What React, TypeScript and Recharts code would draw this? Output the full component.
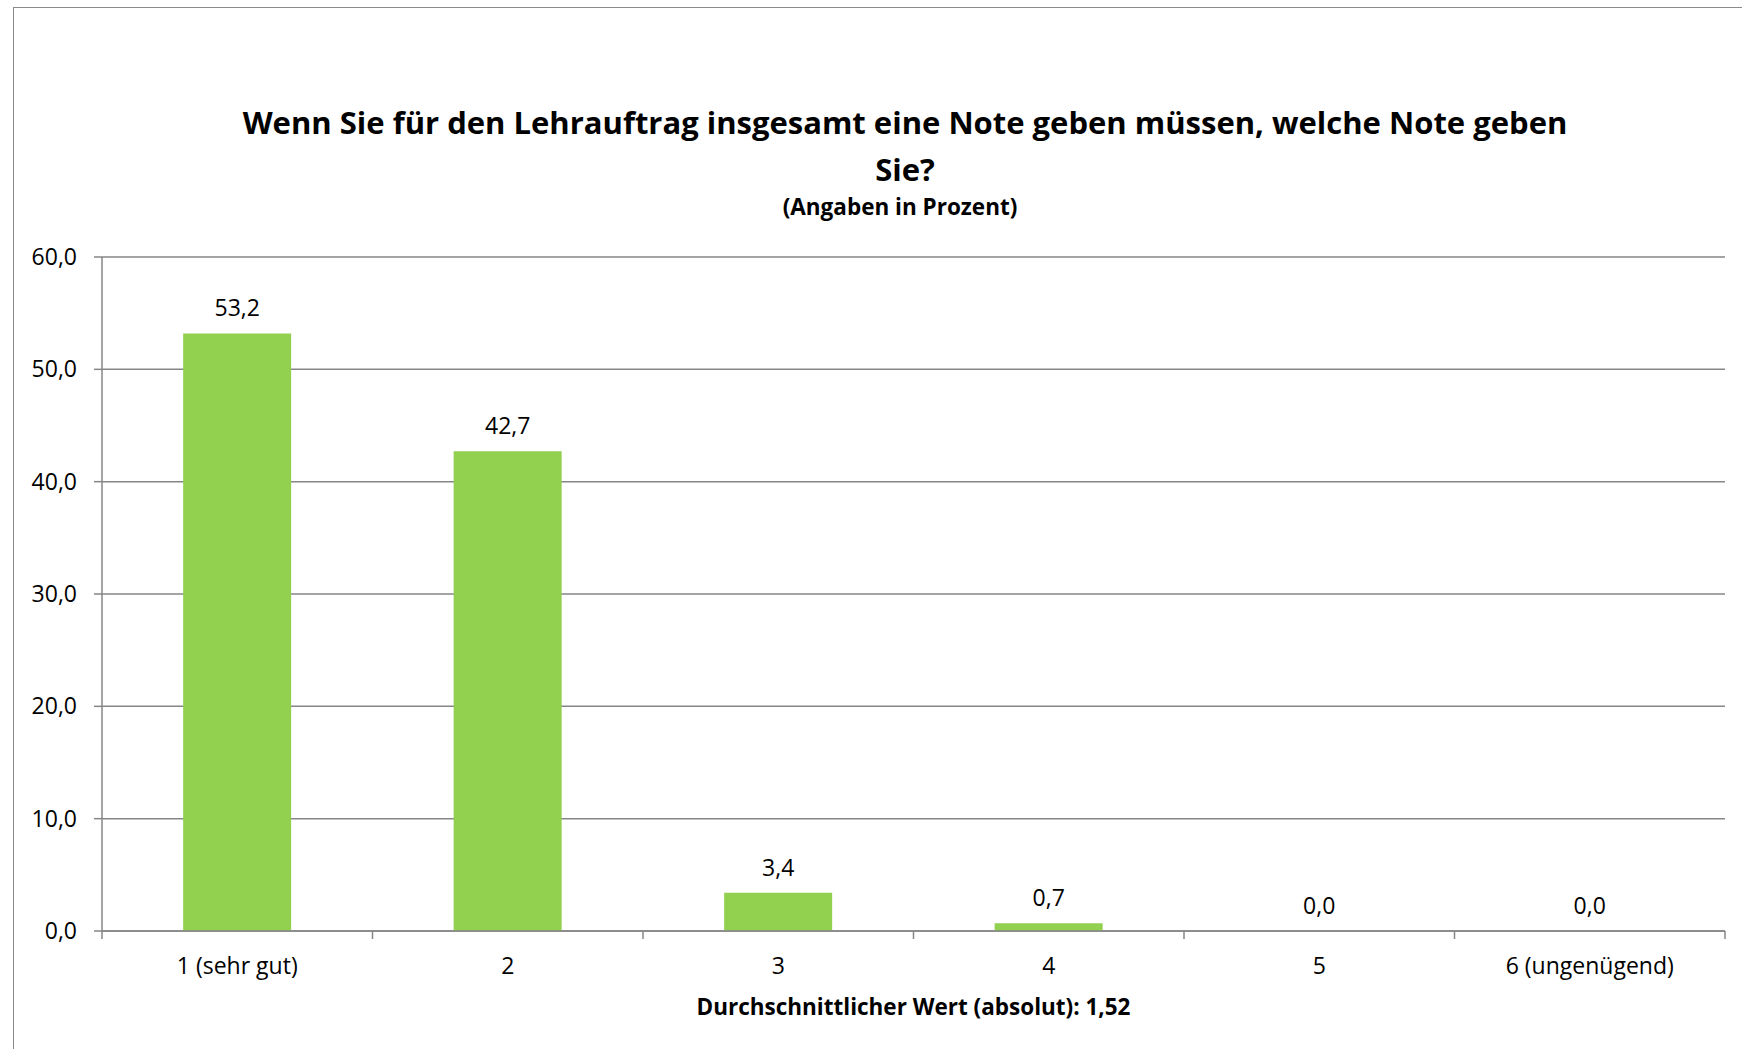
import { ComposedChart, Bar, Line, XAxis, YAxis, CartesianGrid, LabelList } from "recharts"

const grades = ["1 (sehr gut)", "2", "3", "4", "5", "6 (ungenügend)"]
const percents = [53.2, 42.7, 3.4, 0.7, 0.0, 0.0]
const yTicks = [0, 10, 20, 30, 40, 50, 60]

const titleLines = ["Wenn Sie für den Lehrauftrag insgesamt eine Note geben müssen, welche Note geben", "Sie?"]
const subtitle = "(Angaben in Prozent)"
const xTitle = "Durchschnittlicher Wert (absolut): 1,52"

const data = grades.map((g, i) => ({ grade: g, value: percents[i] }))

const FONT = "'Open Sans', sans-serif"
const GRID = "#868686"
const W = 1742
const H = 1049
const MARGIN = { top: 257, right: 17, bottom: 28, left: 0 }
const Y_W = 102
const plotW = W - MARGIN.left - MARGIN.right - Y_W
const TICK_FS = 23

const fmt = (v: number) => v.toFixed(1).replace(".", ",")

// category label at the middle, tick marks on the band edges (Excel style)
const GradeTick = (props: any) => {
  const { x, y, payload, index } = props
  const bw = plotW / grades.length
  return (
    <g>
      <line x1={x - bw / 2} x2={x - bw / 2} y1={y} y2={y + 8} stroke={GRID} strokeWidth={1.5} />
      {index === grades.length - 1 && (
        <line x1={x + bw / 2} x2={x + bw / 2} y1={y} y2={y + 8} stroke={GRID} strokeWidth={1.5} />
      )}
      <text x={x} y={y + 34} textAnchor="middle" dominantBaseline="central" fontSize={TICK_FS} fontFamily={FONT} fill="#000">
        {payload.value}
      </text>
    </g>
  )
}

export default function App() {
  return (
    <div style={{ position: "absolute", left: 0, top: 0, width: W, height: H, overflow: "hidden", background: "#fff" }}>
      <div style={{ position: "absolute", left: 13, top: 7, width: 1900, height: 1200, border: "1.5px solid #8a8a8a" }} />
      <div style={{ position: "absolute", left: 0, top: 0 }}>
        <ComposedChart width={W} height={H} data={data} margin={MARGIN} barCategoryGap="30%">
          <CartesianGrid vertical={false} stroke={GRID} strokeWidth={1.5} />
          <XAxis
            dataKey="grade"
            axisLine={{ stroke: GRID, strokeWidth: 1.5 }}
            tickLine={false}
            tickSize={0}
            tickMargin={0}
            height={90}
            interval={0}
            tick={<GradeTick />}
            label={{ value: xTitle, position: "insideBottom", offset: 6, fontSize: 22.5, fontWeight: 700, fontFamily: FONT, fill: "#000" }}
          />
          <YAxis
            width={Y_W}
            domain={[0, 60]}
            ticks={yTicks}
            tickFormatter={fmt}
            axisLine={{ stroke: GRID, strokeWidth: 1.5 }}
            tickLine={{ stroke: GRID, strokeWidth: 1.5 }}
            tickSize={8}
            tickMargin={17}
            tick={{ fontSize: TICK_FS, fontFamily: FONT, fill: "#000" }}
          />
          <Bar dataKey="value" fill="#92D050" isAnimationActive={false} />
          {/* invisible line only carries the value labels, so 0,0 shows too */}
          <Line dataKey="value" stroke="none" dot={false} activeDot={false} isAnimationActive={false}>
            <LabelList dataKey="value" position="top" offset={17} formatter={(v: any) => fmt(Number(v))} fontSize={TICK_FS} fontFamily={FONT} fill="#000" />
          </Line>
        </ComposedChart>
      </div>
      <div style={{ position: "absolute", left: 105, width: 1600, top: 99, textAlign: "center", fontFamily: FONT, fontWeight: 700, fontSize: 31, lineHeight: "47px", color: "#000" }}>
        {titleLines.map((l) => (
          <div key={l}>{l}</div>
        ))}
      </div>
      <div style={{ position: "absolute", left: 100, width: 1600, top: 193, textAlign: "center", fontFamily: FONT, fontWeight: 700, fontSize: 22.5, lineHeight: "28px", color: "#000" }}>
        {subtitle}
      </div>
    </div>
  )
}
